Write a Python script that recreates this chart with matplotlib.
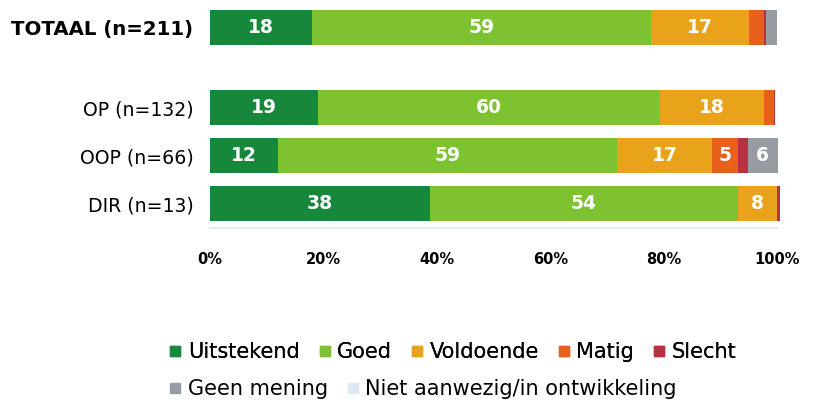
import matplotlib.pyplot as plt
from matplotlib.lines import Line2D
import numpy as np

groups = ['TOTAAL (n=211)', 'OP (n=132)', 'OOP (n=66)', 'DIR (n=13)']
categories = ['Uitstekend', 'Goed', 'Voldoende', 'Matig', 'Slecht',
              'Geen mening', 'Niet aanwezig/in ontwikkeling']
colors = ['#17873b', '#7dc331', '#e9a31a', '#e8601c', '#b73240',
          '#979ca3', '#dde8f0']

# percentages per group, in category order
uitstekend = [18, 19, 12, 38.8]
goed = [59.8, 60.3, 59.8, 54.3]
voldoende = [17.3, 18.4, 16.8, 6.9]
matig = [2.6, 1.8, 4.6, 0]
slecht = [0.4, 0.2, 1.6, 0.5]
geen_mening = [1.9, 0, 5.3, 0]
niet_aanwezig = [0, 0, 0, 0]

# labels as printed in the bars
labels = [
    ['18', '59', '17', '', '', '', ''],
    ['19', '60', '18', '', '', '', ''],
    ['12', '59', '17', '5', '', '6', ''],
    ['38', '54', '8', '', '', '', ''],
]

data = np.array([uitstekend, goed, voldoende, matig, slecht,
                 geen_mening, niet_aanwezig])
ypos = [0, 1.667, 2.667, 3.667]

fig = plt.figure(figsize=(8.14, 4.01), dpi=100)
ax = fig.add_axes([210 / 814, 1 - 228 / 401, 567 / 814, 218 / 401])

left = np.zeros(len(groups))
for i, cat in enumerate(categories):
    ax.barh(ypos, data[i], left=left, height=0.73, color=colors[i],
            label=cat, clip_on=False)
    for j in range(len(groups)):
        if labels[j][i]:
            ax.text(left[j] + data[i][j] / 2, ypos[j], labels[j][i],
                    ha='center', va='center', color='white',
                    fontsize=13.5, fontweight='bold')
    left += data[i]

ax.set_xlim(0, 100)
ax.set_ylim(4.177, -0.365)
ax.set_yticks(ypos)
ax.set_yticklabels(groups)
ax.get_yticklabels()[0].set_fontweight('bold')
ax.get_yticklabels()[0].set_fontsize(14.2)
for t in ax.get_yticklabels()[1:]:
    t.set_fontsize(13.6)
ax.set_xticks([0, 20, 40, 60, 80, 100])
ax.set_xticklabels(['0%', '20%', '40%', '60%', '80%', '100%'],
                   fontsize=10.5, fontweight='bold')
ax.tick_params(axis='x', length=0, pad=17)
ax.tick_params(axis='y', length=0, pad=12)
for s in ax.spines.values():
    s.set_visible(False)
ax.spines['bottom'].set_visible(True)
ax.spines['bottom'].set_color('#e3eaf0')
ax.spines['bottom'].set_linewidth(1.5)

handles = [Line2D([], [], marker='s', linestyle='', color=c, markersize=7.5)
           for c in colors]
leg_kw = dict(loc='upper left', frameon=False, handletextpad=0.2,
              handlelength=0.8, borderaxespad=0, borderpad=0,
              columnspacing=0.8, fontsize=15)
leg1 = fig.legend(handles[:5], categories[:5], ncol=5,
                  bbox_to_anchor=(167 / 814, 1 - 342 / 401), **leg_kw)
fig.add_artist(leg1)
fig.legend(handles[5:], categories[5:], ncol=2,
           bbox_to_anchor=(167 / 814, 1 - 379 / 401), **leg_kw)

fig.savefig('out.png', dpi=100)
